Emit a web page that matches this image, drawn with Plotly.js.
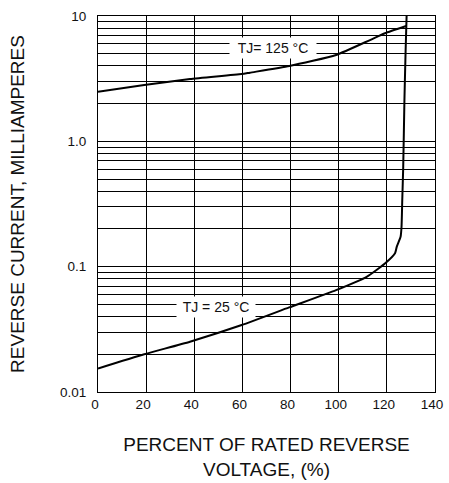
<!DOCTYPE html>
<html>
<head>
<meta charset="utf-8">
<script src="https://cdn.plot.ly/plotly-3.0.1.min.js"></script>
<style>html,body{margin:0;padding:0;background:#fff;}#chart{width:449px;height:483px;}</style>
</head>
<body>
<div id="chart"></div>
<script>
// Tj = 125 °C curve
const hotVoltage = [0, 19.2, 38.2, 59.7, 63.1, 79.5, 98.9, 113, 119.2, 128];
const hotCurrent = [2.49, 2.81, 3.14, 3.44, 3.53, 3.99, 4.89, 6.43, 7.28, 8.32];

// Tj = 25 °C curve
const coldVoltage = [0, 19.2, 38.2, 59.7, 79.4, 98.9, 111.6, 119.2, 123.4, 124.1, 125.7, 126.1, 126.4, 126.8, 127.3, 127.8, 128.2];
const coldCurrent = [0.0154, 0.0200, 0.0252, 0.0342, 0.0473, 0.065, 0.083, 0.106, 0.128, 0.144, 0.173, 0.208, 0.34, 0.627, 2.14, 5.36, 10];

// axis ticks
const xTicks = [0, 20, 40, 60, 80, 100, 120, 140];
const yTickVals = [0.01,0.02,0.03,0.04,0.05,0.06,0.07,0.08,0.09,
                   0.1,0.2,0.3,0.4,0.5,0.6,0.7,0.8,0.9,
                   1,2,3,4,5,6,7,8,9,10];
const yTickText = ['0.01','','','','','','','','',
                   '0.1','','','','','','','','',
                   '1.0','','','','','','','','',
                   '10'];

const labels = ['TJ= 125 °C', 'TJ = 25 °C'];

const ink = '#111';
const lineStyle = {color: '#000', width: 2, shape: 'spline', smoothing: 0.5};
const traces = [
  {x: hotVoltage, y: hotCurrent, mode: 'lines', line: lineStyle, hoverinfo: 'skip'},
  {x: coldVoltage, y: coldCurrent, mode: 'lines', line: lineStyle, hoverinfo: 'skip'}
];

const font = {family: '"Liberation Sans", Arial, sans-serif', color: ink};

const layout = {
  width: 449, height: 483,
  margin: {l: 98, r: 14, t: 16, b: 91},
  paper_bgcolor: '#fff', plot_bgcolor: '#fff',
  showlegend: false,
  font: font,
  xaxis: {
    range: [0, 140], tickvals: xTicks, ticktext: xTicks.map(String),
    showgrid: true, gridcolor: '#000', gridwidth: 1,
    showline: true, mirror: true, linecolor: '#000', linewidth: 1,
    zeroline: false, ticks: '', ticklabelshift: -3,
    tickfont: {size: 13.5, color: ink},
    title: {text: 'PERCENT OF RATED REVERSE<br>VOLTAGE, (%)', font: {size: 19, color: ink}, standoff: 26}
  },
  yaxis: {
    type: 'log', range: [-2, 1],
    tickvals: yTickVals, ticktext: yTickText,
    showgrid: true, gridcolor: '#000', gridwidth: 1,
    showline: true, mirror: true, linecolor: '#000', linewidth: 1,
    zeroline: false, ticks: '', ticklabelstandoff: 8,
    tickfont: {size: 13.5, color: ink},
    title: {text: 'REVERSE CURRENT, MILLIAMPERES', font: {size: 19, color: ink}, standoff: 30}
  },
  annotations: [
    {x: 72.5, y: Math.log10(5.55), xref: 'x', yref: 'y', text: labels[0], showarrow: false,
     bgcolor: '#fff', borderpad: 0, width: 86, height: 20, font: {size: 14, color: ink}},
    {x: 49, y: Math.log10(0.0478), xref: 'x', yref: 'y', text: labels[1], showarrow: false,
     bgcolor: '#fff', borderpad: 0, width: 78, height: 20, font: {size: 14, color: ink}}
  ]
};

Plotly.newPlot('chart', traces, layout, {staticPlot: true, displayModeBar: false});
</script>
</body>
</html>
